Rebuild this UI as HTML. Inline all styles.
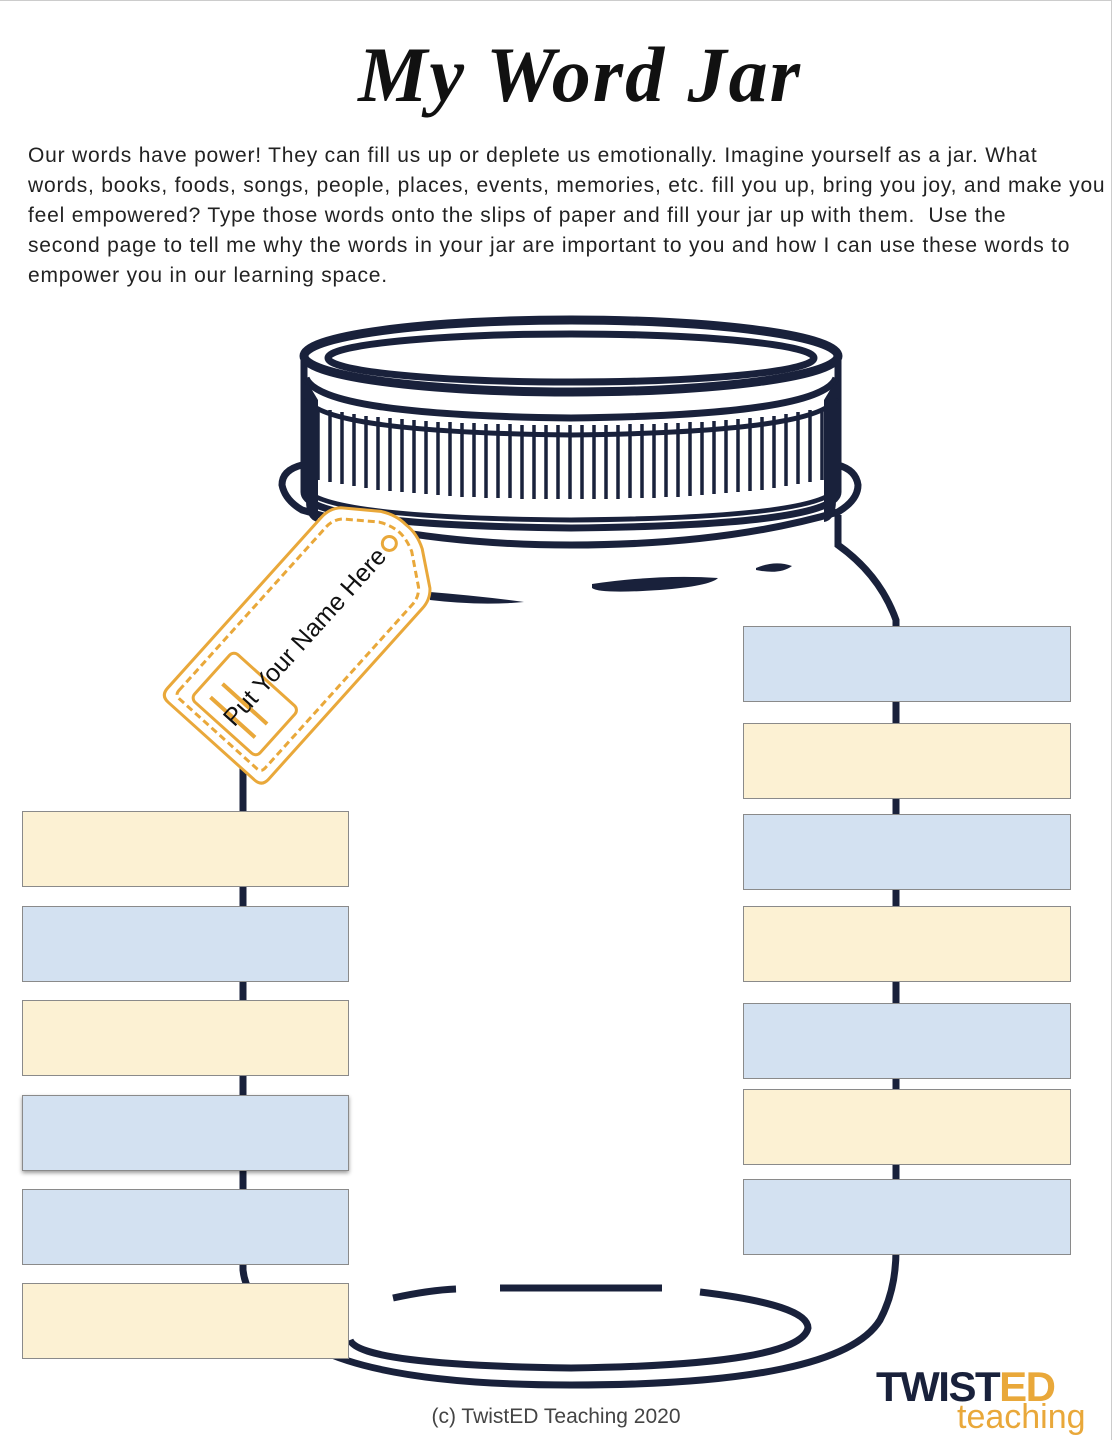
<!DOCTYPE html>
<html><head><meta charset="utf-8"><style>
body{margin:0;background:#fff;width:1112px;height:1440px;overflow:hidden;position:relative;font-family:"Liberation Sans",sans-serif}
.t{position:absolute;left:0;top:30px;width:1160px;text-align:center;font-family:"Liberation Serif",serif;font-style:italic;font-weight:bold;font-size:78px;color:#111;letter-spacing:2px}
.p{position:absolute;left:28px;top:141px;width:1100px;font-size:21px;letter-spacing:0.8px;line-height:30px;color:#222;white-space:nowrap}
.b{position:absolute;width:327px;height:74px;border:1px solid #8a8a8a;box-sizing:border-box}
.bl{background:#d3e1f1}.y{background:#fcf1d3}
</style></head><body>
<div style="position:absolute;left:0;top:0;width:1112px;height:1px;background:#ccc"></div>
<div style="position:absolute;right:0;top:0;width:1px;height:1440px;background:#ccc"></div>
<div class="t">My Word Jar</div>
<div class="p">Our words have power! They can fill us up or deplete us emotionally. Imagine yourself as a jar. What<br>words, books, foods, songs, people, places, events, memories, etc. fill you up, bring you joy, and make you<br>feel empowered? Type those words onto the slips of paper and fill your jar up with them.&nbsp; Use the<br>second page to tell me why the words in your jar are important to you and how I can use these words to<br>empower you in our learning space.</div>
<svg width="1112" height="1440" style="position:absolute;left:0;top:0">
<g fill="none" stroke="#19213b" stroke-width="7">
<path d="M243 620 L243 1270 Q246 1300 280 1320 Q330 1385 571 1385 Q840 1385 880 1320 Q896 1290 896 1250 L896 620 Q880 575 838 545 L838 515"/>
<path d="M302 465 Q282 470 282 485 Q285 500 302 510 Q420 545 571 545 Q725 545 838 512 Q858 500 858 485 Q856 470 838 465"/>
<ellipse cx="571" cy="356" rx="267" ry="36" stroke-width="9"/>
<ellipse cx="571" cy="358" rx="243" ry="24"/>
<path d="M304 360 L304 492 Q304 525 571 528 Q838 525 838 492 L838 360"/>
<path d="M306 378 Q320 415 571 418 Q822 415 836 378"/>
<path d="M306 398 Q320 432 571 435 Q822 432 836 398" stroke-width="5"/>
<path d="M306 490 Q330 518 571 520 Q812 518 836 490" stroke-width="5"/>
<path d="M393 1298 Q430 1290 456 1289" />
<path d="M500 1288 L662 1288"/>
<path d="M700 1292 Q808 1305 808 1328 Q800 1365 571 1368 Q360 1365 350 1340"/>
</g>
<g stroke="#19213b" stroke-width="3.5">
<path d="M318 408 V480 M330 410 V482 M342 412 V484 M354 414 V486 M366 416 V488 M378 417 V490 M390 418 V491 M402 419 V492 M414 420 V493 M426 421 V494 M438 422 V495 M450 422 V496 M462 423 V497 M474 423 V497 M486 424 V498 M498 424 V498 M510 424 V498 M522 425 V499 M534 425 V499 M546 425 V499 M558 425 V499 M570 425 V499 M582 425 V499 M594 425 V499 M606 425 V499 M618 425 V499 M630 424 V498 M642 424 V498 M654 424 V498 M666 423 V497 M678 423 V497 M690 422 V496 M702 422 V495 M714 421 V494 M726 420 V493 M738 419 V492 M750 418 V491 M762 417 V490 M774 416 V488 M786 414 V486 M798 412 V484 M810 410 V482 M822 408 V480"/>
</g>
<path d="M306 380 L306 500 Q306 520 318 522 L318 400Z M836 380 L836 500 Q836 520 824 522 L824 400Z" fill="#19213b"/>
<g fill="#19213b">
<path d="M430 592 Q480 596 524 602 Q480 606 430 600Z"/>
<path d="M592 584 Q660 574 718 578 Q710 586 660 590 Q600 594 592 588Z"/>
<path d="M756 568 Q775 560 792 566 Q780 575 756 570Z"/>
</g>
<g transform="translate(297,646) rotate(-48)">
<path d="M-118 -68 L112 -68 Q124 -68 132 -60 L156 -28 Q164 -14 163 0 Q164 14 156 28 L132 60 Q124 68 112 68 L-118 68 Q-128 68 -128 58 L-128 -58 Q-128 -68 -118 -68Z" fill="#fff" stroke="#e9a83a" stroke-width="3"/>
<path d="M-112 -58 L108 -58 Q118 -58 125 -51 L147 -22 Q153 -10 153 0 Q153 10 147 22 L125 51 Q118 58 108 58 L-112 58 Q-118 58 -118 52 L-118 -52 Q-118 -58 -112 -58Z" fill="none" stroke="#e9a83a" stroke-width="3" stroke-dasharray="7 4"/>
<circle cx="138" cy="0" r="7" fill="none" stroke="#e9a83a" stroke-width="3"/>
<rect x="-110" y="-44" width="64" height="88" rx="6" fill="none" stroke="#e9a83a" stroke-width="3"/>
<path d="M-96 -30 V30 M-78 -30 V30" stroke="#e9a83a" stroke-width="4"/>
<text x="12" y="8" text-anchor="middle" font-family="Liberation Sans, sans-serif" font-size="25" fill="#111">Put Your Name Here</text>
</g>
</svg>
<div class="b y" style="left:22px;top:811px;height:76px"></div>
<div class="b bl" style="left:22px;top:906px;height:76px"></div>
<div class="b y" style="left:22px;top:1000px;height:76px"></div>
<div class="b bl" style="left:22px;top:1095px;height:76px;box-shadow:0 2px 4px rgba(0,0,0,.4)"></div>
<div class="b bl" style="left:22px;top:1189px;height:76px"></div>
<div class="b y" style="left:22px;top:1283px;height:76px"></div>
<div class="b bl" style="left:743px;top:626px;height:76px;width:328px"></div>
<div class="b y" style="left:743px;top:723px;height:76px;width:328px"></div>
<div class="b bl" style="left:743px;top:814px;height:76px;width:328px"></div>
<div class="b y" style="left:743px;top:906px;height:76px;width:328px"></div>
<div class="b bl" style="left:743px;top:1003px;height:76px;width:328px"></div>
<div class="b y" style="left:743px;top:1089px;height:76px;width:328px"></div>
<div class="b bl" style="left:743px;top:1179px;height:76px;width:328px"></div>
<div style="position:absolute;left:0;width:1112px;text-align:center;top:1405px;font-size:21px;color:#444">(c) TwistED Teaching 2020</div>
<div style="position:absolute;left:876px;top:1366px;font-size:42px;font-weight:900;letter-spacing:-1.5px;line-height:42px"><span style="color:#19213b">TWIST</span><span style="color:#e9a83a">ED</span></div>
<div style="position:absolute;left:957px;top:1398px;font-size:34px;color:#e9a83a;line-height:38px">teaching</div>
</body></html>
